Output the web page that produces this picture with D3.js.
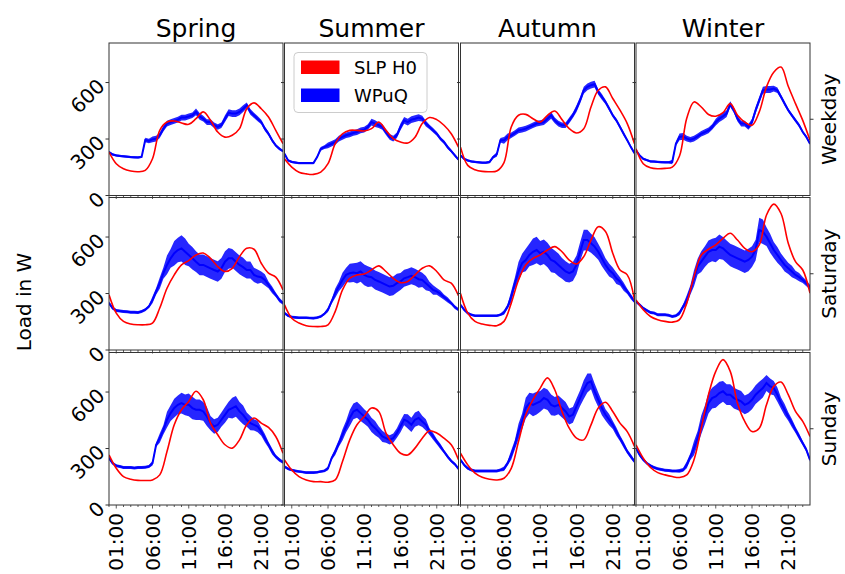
<!DOCTYPE html>
<html>
<head>
<meta charset="utf-8">
<script src="https://cdn.jsdelivr.net/npm/d3@7"></script>
<style>
  body { margin: 0; background: #fff; }
  text { font-family: "DejaVu Sans", sans-serif; fill: #000; }
</style>
</head>
<body>
<div id="chart"></div>
<script>
var seasons = ["Spring", "Summer", "Autumn", "Winter"];
var dayTypes = ["Weekday", "Saturday", "Sunday"];
var hourTicks = [1, 6, 11, 16, 21];
var hourLabels = ["01:00", "06:00", "11:00", "16:00", "21:00"];
var loadTicks = [0, 300, 600];

// SLP H0 in W, hourly 00:00 .. 24:00, one row per season
var slpWeekday = [
  [231,169,142,130,126,133,195,346,390,396,385,378,408,444,400,337,310,320,355,461,492,461,417,346,275],
  [195,151,124,115,112,124,169,275,328,346,346,343,355,390,346,302,284,279,310,382,414,403,373,328,257],
  [257,160,137,128,126,130,175,364,426,431,408,390,426,449,403,355,332,355,470,559,577,515,453,382,275],
  [248,169,147,142,144,151,210,410,497,470,430,421,440,488,426,390,373,444,577,655,682,580,488,399,293]
];
var slpSaturday = [
  [293,196,152,138,134,134,143,223,328,399,452,475,505,515,487,443,417,434,496,540,535,461,408,387,319],
  [240,169,143,129,125,125,134,205,319,381,399,404,425,447,417,381,358,364,399,434,447,417,372,355,288],
  [300,196,152,138,131,129,152,249,372,452,487,505,531,549,522,478,457,496,584,655,630,514,425,399,266],
  [266,214,178,161,152,148,161,249,390,505,535,558,593,620,584,540,522,558,717,775,725,567,469,425,302]
];
var slpSunday = [
  [266,195,151,137,131,130,133,160,284,426,506,550,604,559,435,373,320,302,346,426,462,435,412,364,275],
  [240,186,151,133,124,124,121,133,231,346,426,470,515,497,382,320,275,266,302,355,394,382,355,320,240],
  [275,213,169,147,137,133,142,195,337,479,559,621,675,612,497,408,355,346,426,515,546,497,435,390,311],
  [320,249,199,172,160,151,146,160,240,408,586,710,772,710,541,444,390,408,532,630,653,586,497,444,364]
];

// WPuQ in W, half-hourly 00:00 .. 24:00, one row per season
var wpuqWeekday = [
  [231,218,213,210,208,206,204,203,202,205,295,290,298,302,320,355,382,390,396,403,414,414,420,426,444,420,408,390,390,373,364,373,408,440,435,435,444,461,479,444,426,408,390,355,328,293,266,248,236],
  [222,186,178,175,172,172,172,172,172,204,248,257,266,275,284,302,311,320,325,332,337,346,350,364,390,382,373,364,337,311,302,320,364,399,390,403,408,414,408,382,364,346,328,302,284,257,236,213,190],
  [213,195,186,181,178,176,174,174,178,204,218,293,293,311,320,332,346,350,355,364,373,382,385,390,408,426,399,382,373,373,399,426,462,506,559,577,586,591,550,524,497,462,426,399,364,328,293,257,225],
  [240,213,195,188,181,180,178,177,176,176,178,275,311,314,302,296,302,314,328,337,346,364,390,408,421,435,485,453,408,382,382,364,390,453,506,559,563,563,568,559,524,488,453,426,399,373,337,311,275]
];
var wpuqSaturday = [
  [249,222,210,207,205,203,201,201,199,205,214,231,266,311,355,408,452,487,514,531,540,522,505,487,469,452,452,443,434,425,417,434,469,487,487,469,452,440,425,425,399,390,387,372,346,319,293,266,249],
  [196,182,175,173,171,171,171,170,169,172,178,192,214,258,302,337,372,399,408,411,408,417,399,390,387,372,364,355,346,337,341,355,364,381,387,394,387,376,372,355,337,319,311,298,281,266,249,228,214],
  [240,214,196,187,182,182,182,182,182,182,182,187,199,231,284,355,417,461,478,505,522,531,514,522,505,478,469,452,434,417,408,417,452,522,584,584,567,549,522,487,452,425,408,381,364,337,311,284,258],
  [258,240,222,210,199,196,187,187,187,184,178,182,196,231,266,319,381,443,469,496,522,531,531,549,540,522,505,496,487,478,469,478,496,531,637,628,602,567,531,505,478,452,434,417,399,387,372,355,334]
];
var wpuqSunday = [
  [249,222,209,205,199,199,199,197,199,199,200,204,222,320,355,399,453,488,515,532,541,532,532,515,506,506,497,470,435,417,426,453,479,506,515,524,497,479,453,435,426,417,390,355,320,284,257,240,227],
  [204,192,186,181,178,175,172,172,172,174,178,181,195,249,284,328,373,417,462,497,506,488,470,453,426,408,387,364,355,346,355,382,417,453,444,426,453,462,444,426,390,364,337,311,284,257,234,217,192],
  [240,213,195,186,181,181,181,181,181,181,181,186,192,222,266,320,390,444,515,541,532,541,550,568,559,532,524,532,515,497,470,479,524,568,613,648,657,604,559,515,479,453,426,390,355,320,284,257,231],
  [302,266,240,222,209,199,192,188,185,183,181,181,181,186,213,257,302,355,426,479,541,568,577,595,604,586,586,568,559,550,532,541,559,586,604,621,648,630,621,586,541,506,470,435,399,364,328,293,240]
];

// half width of the noisy WPuQ band in W, hourly
var spreadWeekday = [
  [6,6,6,6,6,12,15,15,15,15,15,15,18,15,15,15,18,18,18,15,14,12,10,8,6],
  [6,6,6,6,6,10,15,15,15,15,15,15,18,15,15,15,18,18,18,15,12,10,10,8,6],
  [6,6,6,6,7,12,18,15,15,15,15,15,18,15,15,15,18,18,18,15,12,10,10,8,6],
  [6,6,6,6,6,12,18,15,15,15,15,18,18,15,15,15,18,18,18,15,12,10,10,8,6]
];
var spreadSaturday = [
  [8,8,8,8,8,8,18,30,50,65,70,60,55,55,55,55,55,50,50,45,38,30,18,12,8],
  [7,7,7,7,7,7,12,25,38,50,55,55,50,50,50,50,45,45,45,38,25,18,14,10,8],
  [7,7,7,7,7,7,12,30,50,60,70,65,65,60,55,50,50,55,50,42,35,30,22,14,10],
  [8,8,8,8,8,8,12,25,42,55,60,65,60,60,60,60,55,65,50,42,35,30,22,16,12]
];
var spreadSunday = [
  [8,8,8,8,8,8,12,25,42,50,55,60,55,50,38,38,42,55,50,38,30,22,16,10,8],
  [7,7,7,7,7,7,10,18,30,42,42,38,38,30,25,25,30,38,38,30,18,14,10,8,8],
  [8,8,8,8,8,8,12,25,42,55,60,55,55,50,50,42,42,50,42,38,30,22,16,12,10],
  [8,8,8,8,8,8,10,18,38,50,55,60,55,55,55,50,50,50,42,38,30,22,16,12,10]
];

var slpRows = [slpWeekday, slpSaturday, slpSunday];
var wpuqRows = [wpuqWeekday, wpuqSaturday, wpuqSunday];
var spreadRows = [spreadWeekday, spreadSaturday, spreadSunday];

var w = 845;
var h = 574;
var colX = [109, 284.5, 460.5, 636];
var rowY = [43, 197.5, 352.5];
var panelW = 174;
var panelH = 152.5;
var frame = "#333";

var svg = d3
  .select("#chart")
  .append("svg")
  .attr("width", w)
  .attr("height", h);

var x = d3.scaleLinear().domain([0, 24]).range([0, panelW]);
var y = d3.scaleLinear().domain([0, 810]).range([panelH, 0]);

var redLine = d3
  .line()
  .x((d, i) => x(i))
  .y((d) => y(d))
  .curve(d3.curveCatmullRom);
var blueLine = d3
  .line()
  .x((d) => x(d.t))
  .y((d) => y(d.v));
var blueBand = d3
  .area()
  .x((d) => x(d.t))
  .y0((d) => y(d.v - d.s))
  .y1((d) => y(d.v + d.s));

var defs = svg.append("defs");

dayTypes.forEach(function (day, r) {
  seasons.forEach(function (season, c) {
    var g = svg
      .append("g")
      .attr("transform", "translate(" + colX[c] + "," + rowY[r] + ")");

    defs
      .append("clipPath")
      .attr("id", "clip" + r + c)
      .append("rect")
      .attr("width", panelW)
      .attr("height", panelH);

    var pts = wpuqRows[r][c].map((v, i) => ({
      t: i / 2,
      v: v,
      s: spreadRows[r][c][Math.floor(i / 2)],
    }));

    var plot = g.append("g").attr("clip-path", "url(#clip" + r + c + ")");
    plot
      .append("path")
      .attr("d", blueBand(pts))
      .attr("fill", "#0000ff")
      .attr("fill-opacity", 0.85);
    plot
      .append("path")
      .attr("d", blueLine(pts))
      .attr("fill", "none")
      .attr("stroke", "#0000ff")
      .attr("stroke-width", 2);
    plot
      .append("path")
      .attr("d", redLine(slpRows[r][c]))
      .attr("fill", "none")
      .attr("stroke", "#ff0000")
      .attr("stroke-width", 1.6);

    g.append("rect")
      .attr("width", panelW)
      .attr("height", panelH)
      .attr("fill", "none")
      .attr("stroke", frame)
      .attr("stroke-width", 1);

    // y ticks
    g.selectAll(".yt")
      .data(loadTicks)
      .enter()
      .append("line")
      .attr("x1", -3.5)
      .attr("x2", 0)
      .attr("y1", (d) => y(d))
      .attr("y2", (d) => y(d))
      .attr("stroke", frame);
    if (c == 0) {
      g.selectAll(".yl")
        .data(loadTicks)
        .enter()
        .append("text")
        .attr("transform", (d) => "translate(-8," + y(d) + ") rotate(-45)")
        .attr("text-anchor", "end")
        .attr("dominant-baseline", "central")
        .style("font-size", "20px")
        .text((d) => d);
    }
    if (c == 3) {
      g.append("line")
        .attr("x1", panelW)
        .attr("x2", panelW + 3.5)
        .attr("y1", panelH / 2)
        .attr("y2", panelH / 2)
        .attr("stroke", frame);
      g.append("text")
        .attr("transform", "translate(" + (836 - colX[3]) + "," + panelH / 2 + ") rotate(-90)")
        .attr("text-anchor", "middle")
        .style("font-size", "20px")
        .text(day);
    }

    // x ticks, minor every hour
    g.selectAll(".xm")
      .data(d3.range(24))
      .enter()
      .append("line")
      .attr("x1", (d) => x(d))
      .attr("x2", (d) => x(d))
      .attr("y1", panelH)
      .attr("y2", (d) => panelH + (hourTicks.includes(d) ? 3.5 : 2))
      .attr("stroke", frame)
      .attr("stroke-width", 0.8);
    if (r == 2) {
      g.selectAll(".xl")
        .data(hourTicks)
        .enter()
        .append("text")
        .attr("transform", (d) => "translate(" + x(d) + "," + (panelH + 8) + ") rotate(-90)")
        .attr("text-anchor", "end")
        .attr("dominant-baseline", "central")
        .style("font-size", "20px")
        .text((d, i) => hourLabels[i]);
    }

    if (r == 0) {
      svg
        .append("text")
        .attr("x", colX[c] + panelW / 2)
        .attr("y", 37)
        .attr("text-anchor", "middle")
        .style("font-size", "25px")
        .text(season);
    }
  });
});

// legend in the summer weekday panel
var legend = svg.append("g").attr("transform", "translate(294,52.5)");
legend
  .append("rect")
  .attr("width", 133)
  .attr("height", 60)
  .attr("rx", 4)
  .attr("fill", "#fff")
  .attr("fill-opacity", 0.8)
  .attr("stroke", "#ccc");
var legendItems = [
  { name: "SLP H0", color: "#ff0000" },
  { name: "WPuQ", color: "#0000ff" },
];
legendItems.forEach(function (d, i) {
  legend
    .append("rect")
    .attr("x", 7)
    .attr("y", 8 + i * 28)
    .attr("width", 38.5)
    .attr("height", 13.5)
    .attr("fill", d.color);
  legend
    .append("text")
    .attr("x", 60)
    .attr("y", 21.5 + i * 28)
    .style("font-size", "18px")
    .text(d.name);
});

svg
  .append("text")
  .attr("transform", "translate(31,302) rotate(-90)")
  .attr("text-anchor", "middle")
  .style("font-size", "20px")
  .text("Load in W");
</script>
</body>
</html>
